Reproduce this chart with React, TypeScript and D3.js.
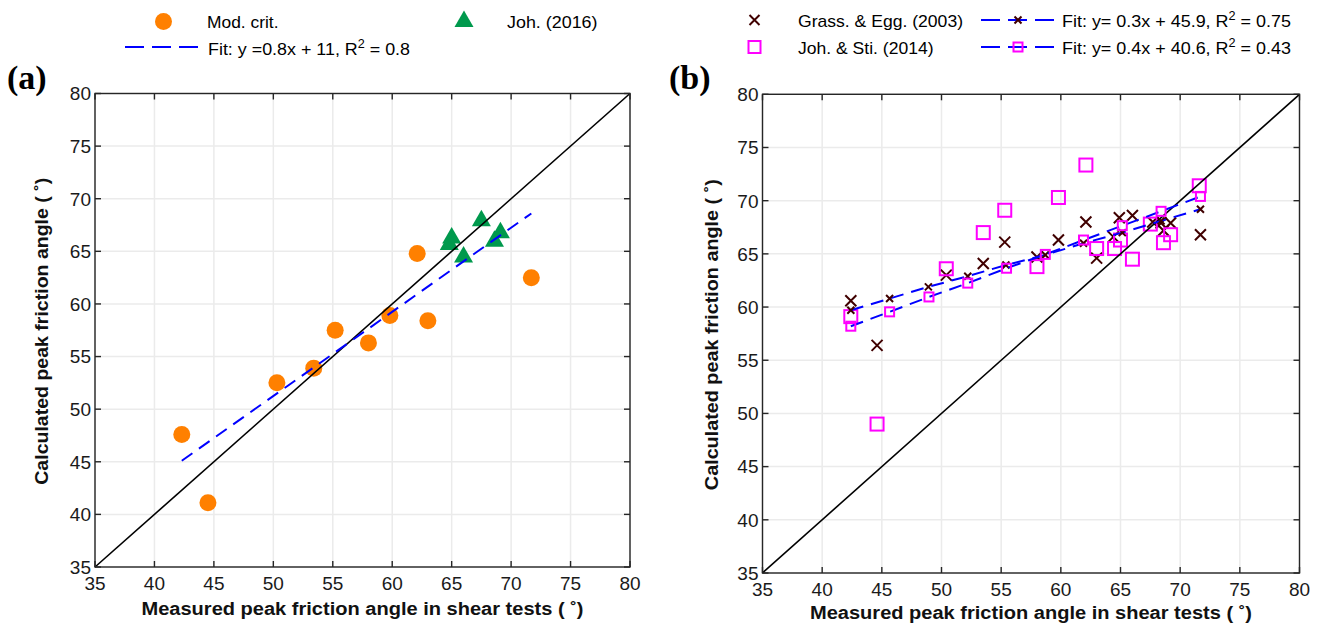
import React from 'react';
import * as d3 from 'd3';

// ---------- data ----------
const TICKS = [35, 40, 45, 50, 55, 60, 65, 70, 75, 80];
const DOMAIN: [number, number] = [35, 80];
const identityLine: [number, number][] = [[35, 35], [80, 80]];

// panel (a)
const modCrit: [number, number][] = [
  [42.3, 47.6], [44.5, 41.1], [50.3, 52.5], [53.4, 53.9], [55.2, 57.5],
  [58.0, 56.3], [59.8, 58.9], [62.1, 64.8], [63.0, 58.4], [71.7, 62.5],
];
const joh2016: [number, number][] = [
  [64.8, 65.8], [65.0, 66.4], [67.5, 68.05], [66.0, 64.6], [69.1, 66.9], [68.6, 66.1],
];
const fitA: [number, number][] = [[42.3, 45.1], [71.7, 68.6]];

// panel (b)
const grassEgg: [number, number][] = [
  [42.4, 60.6], [44.6, 56.4], [50.4, 63.0], [53.5, 64.1], [55.3, 66.1], [58.0, 64.7],
  [59.8, 66.3], [62.1, 68.0], [63.0, 64.6], [64.4, 66.6], [64.9, 68.4], [66.0, 68.6],
  [67.7, 68.0], [68.4, 67.9], [69.2, 67.9], [68.6, 67.2], [71.7, 66.8],
];
const johSti: [number, number][] = [
  [42.4, 59.1], [44.6, 49.0], [50.4, 63.6], [53.5, 67.0], [55.3, 69.1], [58.0, 63.8],
  [59.8, 70.3], [62.1, 73.35], [63.0, 65.5], [64.5, 65.5], [65.0, 66.3], [66.0, 64.5],
  [67.5, 67.8], [68.6, 66.05], [69.2, 66.8], [71.6, 71.4],
];
const grassFit: [number, number][] = [
  [42.4, 59.7], [45.65, 60.8], [48.9, 61.9], [52.2, 62.9], [55.4, 63.95],
  [58.7, 64.9], [61.9, 66.0], [65.15, 67.0], [68.4, 68.1], [71.7, 69.2],
];
const johStiFit: [number, number][] = [
  [42.4, 58.2], [45.65, 59.55], [48.95, 60.95], [52.2, 62.25], [55.45, 63.65],
  [58.7, 64.95], [61.9, 66.3], [65.15, 67.65], [68.4, 69.0], [71.7, 70.4],
];

const X_TITLE = 'Measured peak friction angle in shear tests ( ˚)';
const Y_TITLE = 'Calculated peak friction angle ( ˚)';

// ---------- styles ----------
const SANS = '"Liberation Sans", Arial, Helvetica, sans-serif';
const SERIF = '"Liberation Serif", "Times New Roman", serif';
const C_ORANGE = '#ff8000';
const C_GREEN = '#00994d';
const C_CROSS = '#400000';
const C_MAG = '#ff00ff';
const C_BLUE = '#0000ff';
const C_AXIS = '#262626';
const C_GRID = '#ebebeb';

type Box = { left: number; top: number; right: number; bottom: number };

const crossPath = (s: number) => `M${-s},${-s}L${s},${s}M${-s},${s}L${s},${-s}`;
const triPath = 'M0,-9.5L9.5,7L-9.5,7Z';

function Panel({ box, xTitleY, yTitleX, xTitleLen, yTitleLen, children }: {
  box: Box; xTitleY: number; yTitleX: number; xTitleLen: number; yTitleLen: number;
  children: (x: d3.ScaleLinear<number, number>, y: d3.ScaleLinear<number, number>) => React.ReactNode;
}) {
  const x = d3.scaleLinear().domain(DOMAIN).range([box.left, box.right]);
  const y = d3.scaleLinear().domain(DOMAIN).range([box.bottom, box.top]);
  const tl = 6;
  return (
    <g>
      {TICKS.map((t) => (
        <g key={'g' + t}>
          <line x1={x(t)} x2={x(t)} y1={box.top} y2={box.bottom} stroke={C_GRID} strokeWidth={1.5} />
          <line x1={box.left} x2={box.right} y1={y(t)} y2={y(t)} stroke={C_GRID} strokeWidth={1.5} />
        </g>
      ))}
      {children(x, y)}
      <rect x={box.left} y={box.top} width={box.right - box.left} height={box.bottom - box.top}
        fill="none" stroke={C_AXIS} strokeWidth={1.4} />
      {TICKS.map((t) => (
        <g key={'t' + t} stroke={C_AXIS} strokeWidth={1.4}>
          <line x1={x(t)} x2={x(t)} y1={box.bottom} y2={box.bottom - tl} />
          <line x1={x(t)} x2={x(t)} y1={box.top} y2={box.top + tl} />
          <line x1={box.left} x2={box.left + tl} y1={y(t)} y2={y(t)} />
          <line x1={box.right} x2={box.right - tl} y1={y(t)} y2={y(t)} />
        </g>
      ))}
      {TICKS.map((t) => (
        <g key={'l' + t} fontFamily={SANS} fontSize={19} fill="#1a1a1a">
          <text x={x(t)} y={box.bottom + 23} textAnchor="middle">{t}</text>
          <text x={box.left - 4} y={y(t)} dy="0.36em" textAnchor="end">{t}</text>
        </g>
      ))}
      <text x={(box.left + box.right) / 2} y={xTitleY} textAnchor="middle" fontFamily={SANS}
        fontWeight="bold" fontSize={18} fill="#111" textLength={xTitleLen} lengthAdjust="spacingAndGlyphs">
        {X_TITLE}
      </text>
      <text transform={`translate(${yTitleX},${(box.top + box.bottom) / 2 + 1}) rotate(-90)`}
        textAnchor="middle" fontFamily={SANS} fontWeight="bold" fontSize={18} fill="#111"
        textLength={yTitleLen} lengthAdjust="spacingAndGlyphs">
        {Y_TITLE}
      </text>
    </g>
  );
}

export default function App() {
  const line = (x: any, y: any) => d3.line<[number, number]>().x((d) => x(d[0])).y((d) => y(d[1]));
  const boxA: Box = { left: 95, top: 93.5, right: 630, bottom: 567 };
  const boxB: Box = { left: 762.5, top: 94.3, right: 1299.5, bottom: 573 };
  return (
    <div style={{ position: 'fixed', left: 0, top: 0 }}>
      <svg width={1318} height={628} style={{ display: 'block', background: '#fff' }}>
        {/* panel labels */}
        <text x={7} y={89} fontFamily={SERIF} fontWeight="bold" fontSize={34} fill="#000">(a)</text>
        <text x={669} y={89} fontFamily={SERIF} fontWeight="bold" fontSize={34} fill="#000">(b)</text>

        {/* legend a */}
        <g fontFamily={SANS} fontSize={17} fill="#000">
          <circle cx={163.5} cy={21.5} r={8.5} fill={C_ORANGE} />
          <text x={207} y={28} textLength={71.5} lengthAdjust="spacingAndGlyphs">Mod. crit.</text>
          <path d={triPath} transform="translate(464,20)" fill={C_GREEN} />
          <text x={507} y={28} textLength={90.5} lengthAdjust="spacingAndGlyphs">Joh. (2016)</text>
          <line x1={125} x2={202} y1={47} y2={47} stroke={C_BLUE} strokeWidth={2} strokeDasharray="19,8" />
          <text x={208} y={54.5} textLength={202} lengthAdjust="spacingAndGlyphs">
            Fit: y =0.8x + 11, R<tspan dy={-7} fontSize={12}>2</tspan><tspan dy={7}> = 0.8</tspan>
          </text>
        </g>

        {/* legend b */}
        <g fontFamily={SANS} fontSize={17} fill="#000">
          <path d={crossPath(5)} transform="translate(754.5,20)" stroke={C_CROSS} strokeWidth={2} fill="none" />
          <text x={798} y={27} textLength={165} lengthAdjust="spacingAndGlyphs">Grass. &amp; Egg. (2003)</text>
          <rect x={748.5} y={41} width={12} height={12} fill="none" stroke={C_MAG} strokeWidth={2} />
          <text x={798} y={53.5} textLength={135.5} lengthAdjust="spacingAndGlyphs">Joh. &amp; Sti. (2014)</text>
          <line x1={981} x2={1056} y1={20} y2={20} stroke={C_BLUE} strokeWidth={2} strokeDasharray="19,8" />
          <path d={crossPath(3.5)} transform="translate(1018,20)" stroke={C_CROSS} strokeWidth={2} fill="none" />
          <text x={1062} y={27} textLength={229} lengthAdjust="spacingAndGlyphs">
            Fit: y= 0.3x + 45.9, R<tspan dy={-7} fontSize={12}>2</tspan><tspan dy={7}> = 0.75</tspan>
          </text>
          <line x1={981} x2={1056} y1={47} y2={47} stroke={C_BLUE} strokeWidth={2} strokeDasharray="19,8" />
          <rect x={1013.5} y={42.5} width={9} height={9} fill="none" stroke={C_MAG} strokeWidth={2} />
          <text x={1062} y={53.5} textLength={229} lengthAdjust="spacingAndGlyphs">
            Fit: y= 0.4x + 40.6, R<tspan dy={-7} fontSize={12}>2</tspan><tspan dy={7}> = 0.43</tspan>
          </text>
        </g>

        <Panel box={boxA} xTitleY={615} yTitleX={48} xTitleLen={442} yTitleLen={307}>
          {(x, y) => (
            <g>
              {modCrit.map((d, i) => (
                <circle key={'m' + i} cx={x(d[0])} cy={y(d[1])} r={8.5} fill={C_ORANGE} />
              ))}
              {joh2016.map((d, i) => (
                <path key={'j' + i} d={triPath} transform={`translate(${x(d[0])},${y(d[1])})`} fill={C_GREEN} />
              ))}
              <path d={line(x, y)(identityLine) || ''} stroke="#000" strokeWidth={1.6} fill="none" />
              <path d={line(x, y)(fitA) || ''} stroke={C_BLUE} strokeWidth={2} fill="none" strokeDasharray="13,8" />
            </g>
          )}
        </Panel>

        <Panel box={boxB} xTitleY={619} yTitleX={718} xTitleLen={442} yTitleLen={311}>
          {(x, y) => (
            <g>
              {grassEgg.map((d, i) => (
                <path key={'g' + i} d={crossPath(5.5)} transform={`translate(${x(d[0])},${y(d[1])})`}
                  stroke={C_CROSS} strokeWidth={2} fill="none" />
              ))}
              {johSti.map((d, i) => (
                <rect key={'s' + i} x={x(d[0]) - 6.5} y={y(d[1]) - 6.5} width={13} height={13}
                  fill="none" stroke={C_MAG} strokeWidth={2} />
              ))}
              <path d={line(x, y)(identityLine) || ''} stroke="#000" strokeWidth={1.6} fill="none" />
              <path d={line(x, y)(grassFit) || ''} stroke={C_BLUE} strokeWidth={2} fill="none" strokeDasharray="13,8" />
              {grassFit.map((d, i) => (
                <path key={'gf' + i} d={crossPath(3.5)} transform={`translate(${x(d[0])},${y(d[1])})`}
                  stroke={C_CROSS} strokeWidth={2} fill="none" />
              ))}
              <path d={line(x, y)(johStiFit) || ''} stroke={C_BLUE} strokeWidth={2} fill="none" strokeDasharray="13,8" />
              {johStiFit.map((d, i) => (
                <rect key={'sf' + i} x={x(d[0]) - 4.5} y={y(d[1]) - 4.5} width={9} height={9}
                  fill="none" stroke={C_MAG} strokeWidth={2} />
              ))}
            </g>
          )}
        </Panel>
      </svg>
    </div>
  );
}
